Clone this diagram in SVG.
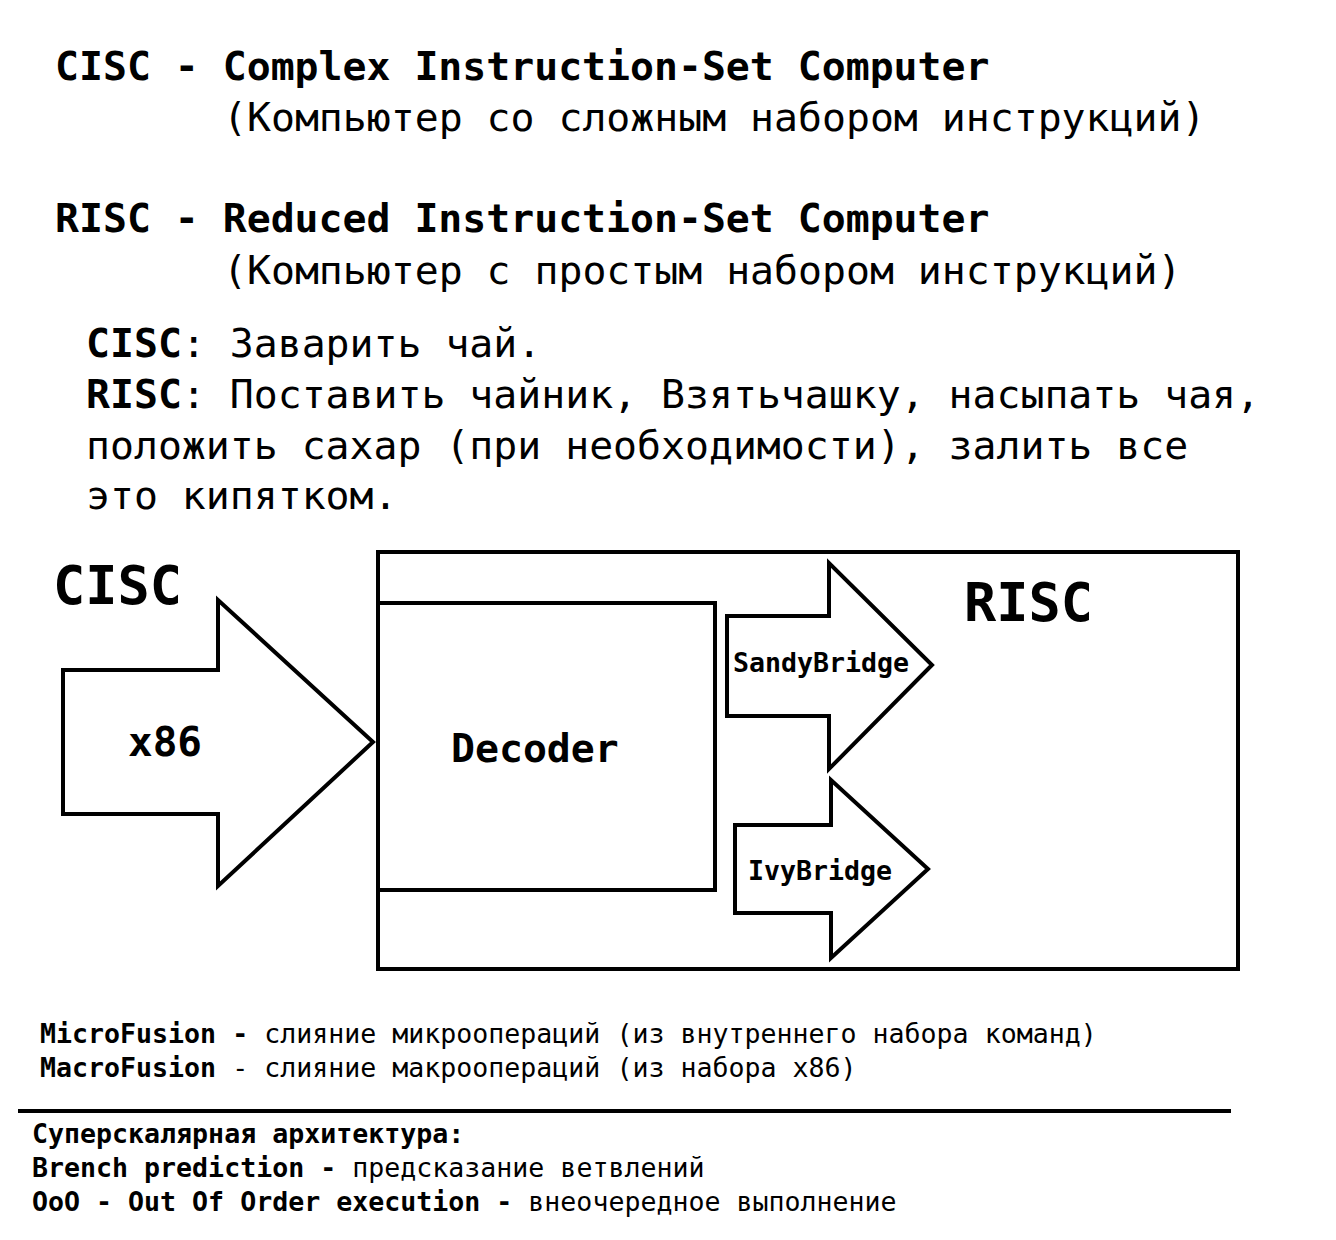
<svg xmlns="http://www.w3.org/2000/svg" width="1336" height="1240" viewBox="0 0 1336 1240">
<style>
text{font-family:"DejaVu Sans Mono","Liberation Mono",monospace;fill:#000}
.b{font-weight:bold}
.t40{font-size:39.8px}
.t27{font-size:26.6px}
.big{font-size:53.5px;font-weight:bold}
.shape{fill:#fff;stroke:#000;stroke-width:4;stroke-linejoin:miter}
</style>
<rect width="1336" height="1240" fill="#fff"/>
<g id="definitions">
<text class="t40 b" x="55" y="80">CISC - Complex Instruction-Set Computer</text>
<text class="t40" x="223" y="131">(Компьютер со сложным набором инструкций)</text>
<text class="t40 b" x="55" y="232">RISC - Reduced Instruction-Set Computer</text>
<text class="t40" x="223" y="284">(Компьютер с простым набором инструкций)</text>
<text class="t40" x="86" y="357"><tspan class="b">CISC</tspan>: Заварить чай.</text>
<text class="t40" x="86" y="408"><tspan class="b">RISC</tspan>: Поставить чайник, Взятьчашку, насыпать чая,</text>
<text class="t40" x="86" y="459">положить сахар (при необходимости), залить все</text>
<text class="t40" x="86" y="509">это кипятком.</text>
</g>
<g id="cisc-label"><text class="big" x="53" y="604">CISC</text></g>
<g id="risc-box">
<rect class="shape" x="378" y="552" width="860" height="417"/>
<text class="big" x="964" y="621">RISC</text>
</g>
<g id="decoder">
<rect class="shape" x="378" y="603" width="337" height="287"/>
<text class="t40 b" x="451" y="762">Decoder</text>
</g>
<g id="connectors">
<g id="x86-arrow">
<polygon class="shape" points="63,670 218,670 218,600 373,742 218,886 218,814 63,814"/>
<text class="b" style="font-size:41px" x="128" y="756">x86</text>
</g>
<g id="sandybridge-arrow">
<polygon class="shape" points="727,616 829,616 829,563 932,665 829,769 829,716 727,716"/>
<text class="t27 b" x="733" y="672">SandyBridge</text>
</g>
<g id="ivybridge-arrow">
<polygon class="shape" points="735,825 831,825 831,780 928,869 831,958 831,913 735,913"/>
<text class="t27 b" x="748" y="880">IvyBridge</text>
</g>
</g>
<g id="notes">
<text class="t27" x="40" y="1043"><tspan class="b">MicroFusion -</tspan> слияние микроопераций (из внутреннего набора команд)</text>
<text class="t27" x="40" y="1077"><tspan class="b">MacroFusion</tspan> - слияние макроопераций (из набора x86)</text>
<line x1="18" y1="1111" x2="1231" y2="1111" stroke="#000" stroke-width="4"/>
<text class="t27 b" x="32" y="1143">Суперскалярная архитектура:</text>
<text class="t27" x="32" y="1177"><tspan class="b">Brench prediction -</tspan> предсказание ветвлений</text>
<text class="t27" x="32" y="1211"><tspan class="b">OoO - Out Of Order execution -</tspan> внеочередное выполнение</text>
</g>
</svg>
